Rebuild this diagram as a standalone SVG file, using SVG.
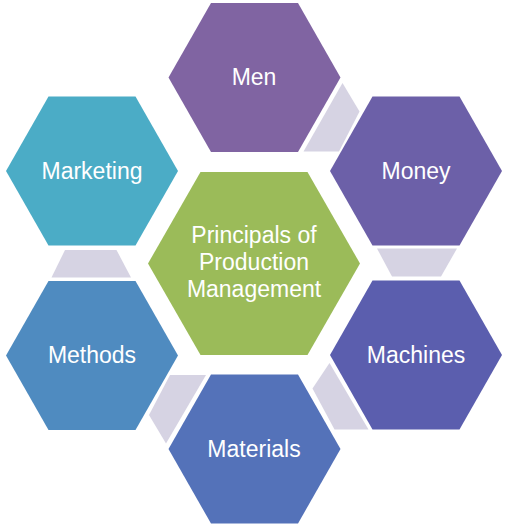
<svg xmlns="http://www.w3.org/2000/svg" xmlns:xlink="http://www.w3.org/1999/xlink" width="509" height="528" viewBox="0 0 509 528">
  <style>
    .lbl { font-family: "Liberation Sans", Arial, sans-serif; font-size: 23px; fill: #ffffff; text-anchor: middle; }
    .conn { fill: #d6d3e3; }
  </style>
  <defs>
    <polygon id="hex" points="-86,0 -43.5,-74.5 43.5,-74.5 86,0 43.5,74.5 -43.5,74.5"/>
  </defs>
  <rect width="509" height="528" fill="#ffffff"/>
  <g id="connectors">
    <polygon class="conn" points="342.5,83 359.5,111.5 339,151.5 303.5,151.5"/>
    <polygon class="conn" points="377,248.5 457,248.5 441,276.5 392,276.5"/>
    <polygon class="conn" points="329.5,363 312.5,388.5 334.5,429.5 368.5,429.5"/>
    <polygon class="conn" points="170,375 206,375 166,443.5 149,415"/>
    <polygon class="conn" points="65,250 116.5,250 131,277.5 51.5,277.5"/>
  </g>
  <g id="node-center">
    <polygon points="148,263.5 200.5,172 307.5,172 360,263.5 307.5,355 200.5,355" fill="#9bbb59"/>
    <text class="lbl" x="254" y="243">Principals of</text>
    <text class="lbl" x="254" y="270">Production</text>
    <text class="lbl" x="254" y="297">Management</text>
  </g>
  <g id="node-men">
    <use xlink:href="#hex" x="254.5" y="77.5" fill="#8064a2"/>
    <text class="lbl" x="254" y="85">Men</text>
  </g>
  <g id="node-money">
    <use xlink:href="#hex" x="416" y="171" fill="#6c60a8"/>
    <text class="lbl" x="416" y="178.5">Money</text>
  </g>
  <g id="node-machines">
    <use xlink:href="#hex" x="416" y="355" fill="#5b5eae"/>
    <text class="lbl" x="416" y="362.5">Machines</text>
  </g>
  <g id="node-materials">
    <use xlink:href="#hex" x="254.5" y="449" fill="#5472b9"/>
    <text class="lbl" x="254" y="456.5">Materials</text>
  </g>
  <g id="node-methods">
    <use xlink:href="#hex" x="92" y="355.5" fill="#4f8bc0"/>
    <text class="lbl" x="92" y="363">Methods</text>
  </g>
  <g id="node-marketing">
    <use xlink:href="#hex" x="92" y="171" fill="#4bacc6"/>
    <text class="lbl" x="92" y="178.5">Marketing</text>
  </g>
</svg>
